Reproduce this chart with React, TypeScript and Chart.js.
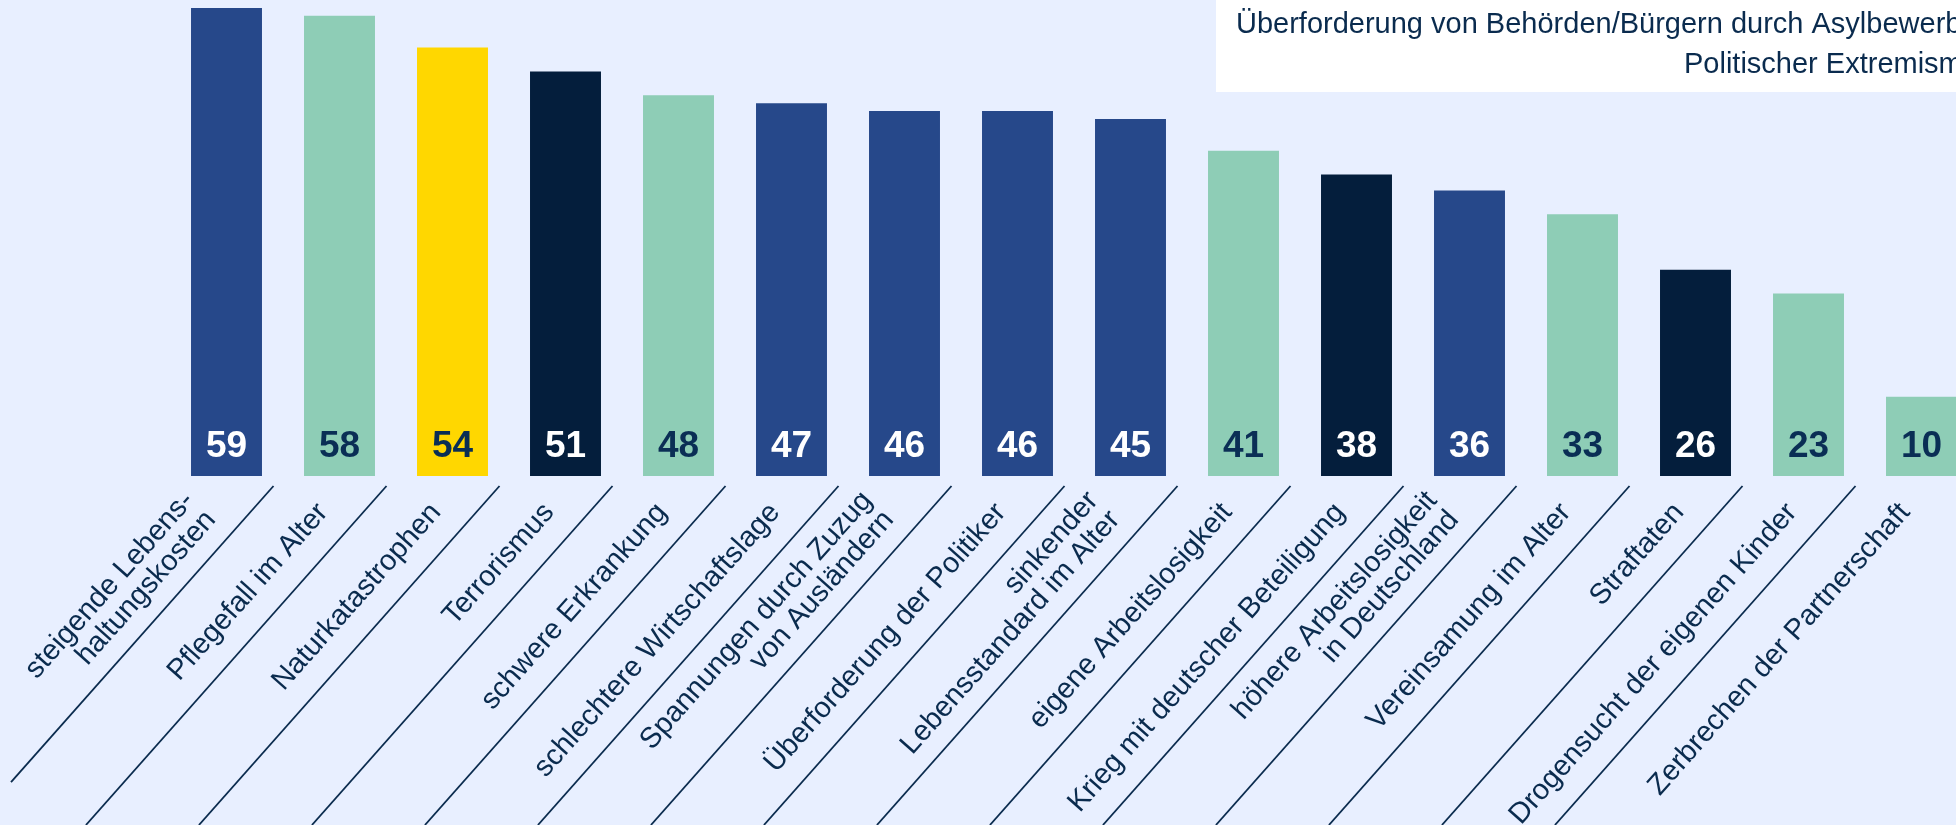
import { useEffect, useRef } from 'react';
import { Chart, registerables } from 'chart.js';

Chart.register(...registerables);

// ---- data ----
const categories: string[][] = [
  ['steigende Lebens-', 'haltungskosten'],
  ['Pflegefall im Alter'],
  ['Naturkatastrophen'],
  ['Terrorismus'],
  ['schwere Erkrankung'],
  ['schlechtere Wirtschaftslage'],
  ['Spannungen durch Zuzug', 'von Ausländern'],
  ['Überforderung der Politiker'],
  ['sinkender', 'Lebensstandard im Alter'],
  ['eigene Arbeitslosigkeit'],
  ['Krieg mit deutscher Beteiligung'],
  ['höhere Arbeitslosigkeit', 'in Deutschland'],
  ['Vereinsamung im Alter'],
  ['Straftaten'],
  ['Drogensucht der eigenen Kinder'],
  ['Zerbrechen der Partnerschaft'],
];
const values: number[] = [59, 58, 54, 51, 48, 47, 46, 46, 45, 41, 38, 36, 33, 26, 23, 10];
const colorKeys: string[] = [
  'blue', 'green', 'yellow', 'navy', 'green', 'blue', 'blue', 'blue',
  'blue', 'green', 'navy', 'blue', 'green', 'navy', 'green', 'green',
];
const legendLines: string[] = [
  'Überforderung von Behörden/Bürgern durch Asylbewerber',
  'Politischer Extremismus',
];

// ---- styles ----
const BG = '#E8EFFF';
const TEXT = '#0A2B4E';
const PALETTE: Record<string, string> = {
  blue: '#26488A',
  green: '#8ECDB6',
  yellow: '#FFD700',
  navy: '#041E3C',
};
const LABEL_ON: Record<string, string> = {
  blue: '#FFFFFF',
  green: '#0A2E55',
  yellow: '#0A2E55',
  navy: '#FFFFFF',
};
const FONT = '"Liberation Sans", Arial, sans-serif';
const ANGLE = (48.44 * Math.PI) / 180;

const decorPlugin = {
  id: 'decor',
  beforeDraw(chart: any) {
    const ctx = chart.ctx;
    ctx.save();
    ctx.fillStyle = BG;
    ctx.fillRect(0, 0, chart.width, chart.height);
    ctx.restore();
  },
  afterDraw(chart: any) {
    const ctx: CanvasRenderingContext2D = chart.ctx;
    const xs = chart.scales.x;
    const ys = chart.scales.y;
    const base = ys.getPixelForValue(0);
    const n = values.length;
    const cos = Math.cos(ANGLE);
    const sin = Math.sin(ANGLE);

    // value labels
    ctx.save();
    ctx.font = `bold 37px ${FONT}`;
    ctx.textAlign = 'center';
    ctx.textBaseline = 'alphabetic';
    for (let i = 0; i < n; i++) {
      ctx.fillStyle = LABEL_ON[colorKeys[i]];
      ctx.fillText(String(values[i]), xs.getPixelForValue(i), base - 19.5);
    }
    ctx.restore();

    // separator lines
    ctx.save();
    ctx.strokeStyle = TEXT;
    ctx.lineWidth = 1.8;
    for (let i = 0; i < n - 1; i++) {
      const x0 = (xs.getPixelForValue(i) + xs.getPixelForValue(i + 1)) / 2 - 9.5;
      const y0 = base + 10;
      const t = Math.min((x0 - 11) / cos, (chart.height - y0) / sin);
      ctx.beginPath();
      ctx.moveTo(x0, y0);
      ctx.lineTo(x0 - cos * t, y0 + sin * t);
      ctx.stroke();
    }
    ctx.restore();

    // category labels
    ctx.save();
    ctx.font = `29px ${FONT}`;
    ctx.fillStyle = TEXT;
    ctx.textAlign = 'right';
    ctx.textBaseline = 'alphabetic';
    const spacing = 29;
    for (let i = 0; i < n; i++) {
      const lines = categories[i];
      const ax = xs.getPixelForValue(i) - 10.5;
      const ay = base + 37;
      ctx.save();
      ctx.translate(ax, ay);
      ctx.rotate(-ANGLE);
      const m = lines.length;
      const along = m > 1 ? -5 : 0;
      for (let k = 0; k < m; k++) {
        const off = (k - (m - 1) / 2) * spacing + (m > 1 ? -9 : 0);
        ctx.fillText(lines[k], along, off);
      }
      ctx.restore();
    }
    ctx.restore();

    // legend box (top right)
    ctx.save();
    ctx.fillStyle = '#FFFFFF';
    ctx.fillRect(1216, 0, chart.width - 1216, 92);
    ctx.fillStyle = TEXT;
    ctx.font = `29px ${FONT}`;
    ctx.textAlign = 'left';
    ctx.textBaseline = 'alphabetic';
    ctx.fillText(legendLines[0], 1236, 32.5);
    ctx.fillText(legendLines[1], 1684, 72.7);
    ctx.restore();
  },
};

export default function App() {
  const canvasRef = useRef<HTMLCanvasElement | null>(null);

  useEffect(() => {
    document.body.style.margin = '0';
    document.body.style.overflow = 'hidden';
    document.body.style.background = BG;
    const canvas = canvasRef.current;
    if (!canvas) return;
    const chart = new Chart(canvas, {
      type: 'bar',
      data: {
        labels: categories.map((c) => c.join(' ')),
        datasets: [
          {
            data: values,
            backgroundColor: colorKeys.map((k) => PALETTE[k]),
            borderWidth: 0,
            barPercentage: 0.628,
            categoryPercentage: 1,
          },
        ],
      },
      options: {
        responsive: false,
        animation: false,
        devicePixelRatio: 1,
        layout: { padding: { left: 170, right: 0, top: 0, bottom: 349 } },
        plugins: {
          legend: { display: false },
          tooltip: { enabled: false },
        },
        scales: {
          x: { display: false, offset: true, grid: { display: false } },
          y: { display: false, min: 0, max: 60, grid: { display: false } },
        },
      },
      plugins: [decorPlugin],
    });
    return () => chart.destroy();
  }, []);

  return (
    <div style={{ width: 1956, height: 825, overflow: 'hidden', background: BG, position: 'relative' }}>
      <canvas ref={canvasRef} width={1978} height={825} style={{ width: 1978, height: 825, display: 'block' }} />
    </div>
  );
}
